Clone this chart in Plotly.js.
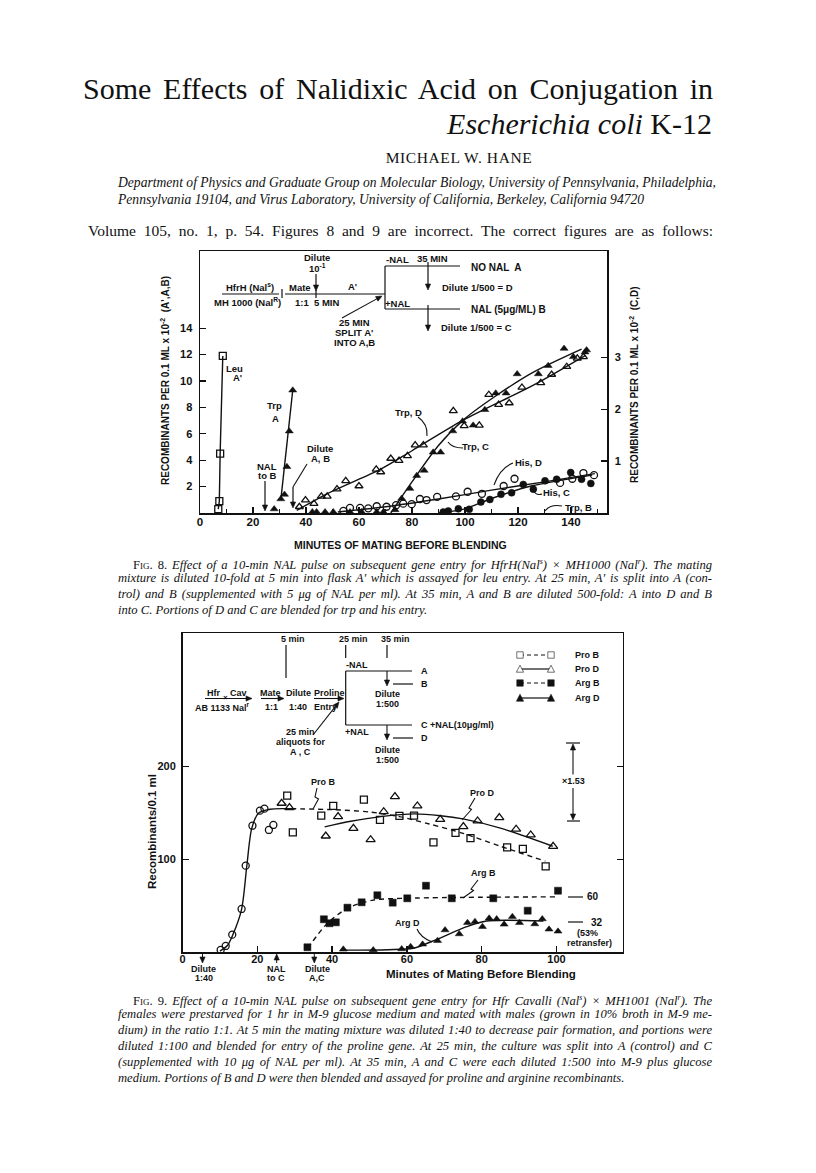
<!DOCTYPE html>
<html>
<head>
<meta charset="utf-8">
<script src="https://cdn.plot.ly/plotly-3.0.1.min.js"></script>
<style>
  body { margin: 0; background: #fff; }
  #page { position: relative; width: 816px; height: 1173px; overflow: hidden; background: #fff; }
  #chart { position: absolute; left: 0; top: 0; width: 816px; height: 1173px; z-index: 1; }
  .t { position: absolute; z-index: 2; font-family: 'Liberation Serif', 'DejaVu Serif', serif; color: #111; white-space: nowrap; }
  .j { text-align: justify; text-align-last: justify; }
  .cap { font-style: italic; font-size: 12.6px; line-height: 14px; }
  .sc { font-style: normal; font-variant: small-caps; }
</style>
</head>
<body>
<div id="page">
  <div id="chart"></div>

  <div class="t j" style="left:83px; top:72px; width:630px; font-size:30px; line-height:34px;">Some Effects of Nalidixic Acid on Conjugation in</div>
  <div class="t" style="left:300px; top:107px; width:412px; text-align:right; font-size:30px; line-height:34px;"><i>Escherichia coli</i> K-12</div>
  <div class="t" style="left:300px; top:149px; width:318px; text-align:center; font-size:15.5px; line-height:18px; letter-spacing:0.6px;">MICHAEL W. HANE</div>
  <div class="t j" style="left:118px; top:175px; width:588px; font-size:13.6px; line-height:16px; font-style:italic;">Department of Physics and Graduate Group on Molecular Biology, University of Pennsylvania, Philadelphia,</div>
  <div class="t" style="left:118px; top:192px; font-size:13.6px; line-height:16px; font-style:italic;">Pennsylvania 19104, and Virus Laboratory, University of California, Berkeley, California 94720</div>
  <div class="t j" style="left:88px; top:222px; width:625px; font-size:15.5px; line-height:18px;">Volume 105, no. 1, p. 54. Figures 8 and 9 are incorrect. The correct figures are as follows:</div>

  <div class="t j cap" style="left:133px; top:555px; width:579px;"><span class="sc">Fig. 8.</span> Effect of a 10-min NAL pulse on subsequent gene entry for HfrH(Nal<sup style="font-size:8px">s</sup>) × MH1000 (Nal<sup style="font-size:8px">r</sup>). The mating</div>
  <div class="t j cap" style="left:118px; top:571px; width:594px;">mixture is diluted 10-fold at 5 min into flask A' which is assayed for leu entry. At 25 min, A' is split into A (con-</div>
  <div class="t j cap" style="left:118px; top:587px; width:594px;">trol) and B (supplemented with 5 μg of NAL per ml). At 35 min, A and B are diluted 500-fold: A into D and B</div>
  <div class="t cap" style="left:118px; top:603px;">into C. Portions of D and C are blended for trp and his entry.</div>

  <div class="t j cap" style="left:133px; top:991px; width:579px;"><span class="sc">Fig. 9.</span> Effect of a 10-min NAL pulse on subsequent gene entry for Hfr Cavalli (Nal<sup style="font-size:8px">s</sup>) × MH1001 (Nal<sup style="font-size:8px">r</sup>). The</div>
  <div class="t j cap" style="left:118px; top:1007px; width:594px;">females were prestarved for 1 hr in M-9 glucose medium and mated with males (grown in 10% broth in M-9 me-</div>
  <div class="t j cap" style="left:118px; top:1023px; width:594px;">dium) in the ratio 1:1. At 5 min the mating mixture was diluted 1:40 to decrease pair formation, and portions were</div>
  <div class="t j cap" style="left:118px; top:1039px; width:594px;">diluted 1:100 and blended for entry of the proline gene. At 25 min, the culture was split into A (control) and C</div>
  <div class="t j cap" style="left:118px; top:1055px; width:594px;">(supplemented with 10 μg of NAL per ml). At 35 min, A and C were each diluted 1:500 into M-9 plus glucose</div>
  <div class="t cap" style="left:118px; top:1071px;">medium. Portions of B and D were then blended and assayed for proline and arginine recombinants.</div>
</div>

<script>
// ---- Fig. 8 data (minutes; left axis A',A,B / right axis C,D) ----
const leuX = [6.9, 7.3, 7.6, 8.6];
const leuY = [0.3, 0.9, 4.5, 11.9];

const trpAX = [28, 30.5, 31.9, 32.8, 33.7, 35];
const trpAY = [0.3, 1.06, 1.4, 3.5, 6.2, 9.3];
const trpALineX = [30.5, 35];
const trpALineY = [1.0, 9.3];

const trpDX = [37.5, 39.8, 43, 45.8, 48, 51.7, 55, 60, 66.5, 68.2, 72, 75.1, 78.3, 81.2, 84.3, 95.6, 99.7, 105.4, 109, 112.7, 116.7, 121.5, 128.6, 132.7, 138.4, 142.4, 144.7];
const trpDY = [0.12, 0.25, 0.18, 0.32, 0.32, 0.46, 0.62, 0.52, 0.84, 0.79, 1.05, 1.01, 1.1, 1.31, 1.31, 1.97, 1.68, 1.69, 2.28, 2.09, 2.12, 2.42, 2.51, 2.67, 2.82, 2.98, 3.01];
const trpDFitX = [36.5, 50, 68, 80, 99, 126, 145.5];
const trpDFitY = [0.05, 0.42, 0.84, 1.2, 1.78, 2.47, 3.04];

const trpCX = [73.6, 76.1, 79.2, 81.8, 84.6, 88, 90.8, 95.4, 99.1, 103.1, 107.5, 111.6, 115.5, 119.7, 127.7, 131.4, 137.4, 140.9, 145.3, 145.9];
const trpCY = [0.06, 0.28, 0.47, 0.72, 0.82, 1.17, 1.17, 1.58, 1.77, 1.69, 1.99, 2.31, 2.31, 2.68, 2.68, 2.84, 3.17, 3.01, 3.1, 3.14];
const trpCFitX = [72, 80, 90, 100, 112, 126, 144];
const trpCFitY = [0.0, 0.6, 1.3, 1.82, 2.27, 2.72, 3.16];

const trpBX = [42.4, 44, 47.2, 50.3, 56.6, 61, 66.7, 69.2];
const trpBY = [0.03, 0.03, 0.03, 0.03, 0.03, 0.03, 0.03, 0.03];

const hisDX = [54.1, 56.6, 60.4, 63.5, 66.7, 70.4, 74, 76.7, 79.9, 83, 85.5, 89.5, 96.6, 101, 106.4, 114.6, 118.7, 135.9, 140.5, 144.7, 148.7];
const hisDY = [0.04, 0.1, 0.1, 0.09, 0.13, 0.12, 0.15, 0.18, 0.17, 0.27, 0.25, 0.31, 0.32, 0.41, 0.37, 0.52, 0.66, 0.58, 0.66, 0.77, 0.73];
const hisDFitX = [52, 70, 90, 110, 130, 149];
const hisDFitY = [0.02, 0.12, 0.27, 0.44, 0.6, 0.76];

const hisCX = [91.8, 93.7, 97.5, 101.6, 106, 109.4, 113.6, 117.6, 122, 125.8, 130.2, 134.6, 139.9, 144, 147.5];
const hisCY = [0.02, 0.04, 0.08, 0.07, 0.21, 0.26, 0.36, 0.39, 0.55, 0.46, 0.62, 0.65, 0.78, 0.65, 0.57];
const hisCFitX = [90, 100, 110, 125, 148];
const hisCFitY = [0.0, 0.08, 0.28, 0.52, 0.73];

// ---- Fig. 9 data (minutes; recombinants / 0.1 ml) ----
const proX = [10.2, 11.55, 13.3, 15.8, 16.9, 18.7, 20.7, 21.9, 23.1, 24.3];
const proY = [2.2, 6.5, 18.7, 46.4, 93.1, 136.2, 152.4, 154.6, 131.6, 137];
const proFitX = [10, 12, 13.5, 15.8, 17.2, 18.5, 20.3, 23.4, 29];
const proFitY = [1, 7, 19, 46, 93, 133, 149.6, 154, 154.5];

const proBX = [28.0, 29.5, 37.1, 40.3, 48.5, 52.8, 58.0, 61.9, 67.1, 73.0, 77.0, 86.8, 91.0, 97.1];
const proBY = [168.6, 129.1, 147.0, 157.5, 164.3, 142.4, 146.7, 147.0, 118.3, 128.4, 122.7, 112.9, 111.1, 92.4];
const proBFitX = [29, 40, 50, 58, 66, 75, 85, 97];
const proBFitY = [154.5, 153.5, 151, 146, 138, 128, 114, 98];

const proDX = [26.5, 28.6, 38.3, 41.6, 45.7, 50.3, 53.8, 56.8, 62.8, 68.9, 75.1, 78.9, 84.7, 89.2, 93.1, 99.1];
const proDY = [160.4, 155.7, 125.1, 146, 133.4, 121.1, 151.3, 167.5, 157.5, 143.1, 135.2, 141.3, 144.9, 132.4, 126.2, 114];
const proDFitX = [38, 45, 53, 62, 69, 75, 85, 99];
const proDFitY = [135, 141, 146, 149, 147, 143.5, 133.5, 114];

const argBX = [33.4, 37.8, 39.3, 41.0, 44.1, 47.9, 52.1, 56.2, 60.1, 65.1, 72.0, 83.1, 92.3, 100.4];
const argBY = [5.1, 35.3, 31.0, 32.0, 47.8, 53.6, 61.2, 53.2, 57.9, 71.5, 57.9, 57.9, 44.6, 66.1];
const argBFitX = [33.5, 38.5, 44, 51, 60, 100];
const argBFitY = [4, 30, 47, 56, 58, 59.5];

const argDX = [43.0, 51.0, 58.6, 61.0, 64.2, 68.2, 70.2, 74.0, 76.2, 78.2, 80.2, 82.0, 84.0, 86.0, 88.2, 90.1, 94.2, 96.2, 98.0, 100.4];
const argDY = [2.9, 2.2, 3.2, 5.7, 8.3, 12.2, 23.7, 19.4, 31.6, 32.7, 27.3, 36.4, 35.6, 29.8, 38.1, 31.6, 30.2, 35.6, 24.5, 22.3];
const argDFitX = [43, 55, 61.7, 68, 76, 81.3, 96.5];
const argDFitY = [2, 2.5, 4, 13.7, 27.3, 33.4, 33.4];

// ---- page helpers (page pixels -> paper fractions) ----
const W = 816, H = 1173;
const INK = '#111';
const SANS = 'Liberation Sans, Arial, sans-serif';
const fx = p => p / W;
const fy = p => 1 - p / H;

function T(x, y, text, size, opt) {
    return Object.assign({
        xref: 'paper', yref: 'paper', x: fx(x), y: fy(y), text: text, showarrow: false,
        xanchor: 'center', yanchor: 'middle',
        font: { family: SANS, size: size || 10, color: INK, weight: 'bold' },
    }, opt || {});
}
function L(x0, y0, x1, y1, w, dash) {
    return { type: 'line', xref: 'paper', yref: 'paper', x0: fx(x0), y0: fy(y0), x1: fx(x1), y1: fy(y1),
        line: { color: INK, width: w || 1.2, dash: dash || 'solid' } };
}
function P(pts, closed, fill) {
    let d = pts.map((p, i) => (i ? 'L' : 'M') + fx(p[0]) + ',' + fy(p[1])).join(' ');
    if (closed) d += ' Z';
    return { type: 'path', xref: 'paper', yref: 'paper', path: d,
        fillcolor: fill || 'rgba(0,0,0,0)', line: { color: INK, width: fill ? 0.6 : 1.1 } };
}
function Q(x0, y0, cx, cy, x1, y1) {
    return { type: 'path', xref: 'paper', yref: 'paper',
        path: `M${fx(x0)},${fy(y0)} Q${fx(cx)},${fy(cy)} ${fx(x1)},${fy(y1)}`,
        line: { color: INK, width: 1.1 } };
}
// arrow from (x0,y0) to head at (x1,y1)
function ARW(x0, y0, x1, y1, w) {
    const dx = x1 - x0, dy = y1 - y0, len = Math.hypot(dx, dy);
    const ux = dx / len, uy = dy / len, hl = 6, hw = 2.6;
    const bx = x1 - ux * hl, by = y1 - uy * hl;
    return [
        L(x0, y0, bx, by, w || 1.2),
        P([[x1, y1], [bx - uy * hw, by + ux * hw], [bx + uy * hw, by - ux * hw]], true, INK),
    ];
}
function mk(x, y, kind, s) {
    s = s || 3.2;
    if (kind === 'sq' || kind === 'sqf') {
        return P([[x - s, y - s], [x + s, y - s], [x + s, y + s], [x - s, y + s]], true, kind === 'sqf' ? INK : '#fff');
    }
    return P([[x, y - s - 0.6], [x + s + 0.4, y + s], [x - s - 0.4, y + s]], true, kind === 'trf' ? INK : '#fff');
}

// ---- traces ----
const BASE8 = { xaxis: 'x', showlegend: false, hoverinfo: 'skip' };
const BASE9 = { xaxis: 'x3', yaxis: 'y3', showlegend: false, hoverinfo: 'skip' };
const mOpen = (sym, sz) => ({ symbol: sym, size: sz || 7, color: INK, line: { color: INK, width: 1.3 } });
const mFill = (sym, sz) => ({ symbol: sym, size: sz || 7, color: INK, line: { color: INK, width: 0.5 } });
const fitLine = (dash) => ({ color: INK, width: 1.4, shape: 'spline', smoothing: 0.8, dash: dash || 'solid' });

const data = [
    // Fig. 8
    { ...BASE8, yaxis: 'y', x: leuX, y: leuY, mode: 'lines+markers', line: { color: INK, width: 1.4 }, marker: { ...mOpen('square-open', 7), color: INK } },
    { ...BASE8, yaxis: 'y', x: trpALineX, y: trpALineY, mode: 'lines', line: { color: INK, width: 1.4 } },
    { ...BASE8, yaxis: 'y', x: trpAX, y: trpAY, mode: 'markers', marker: mFill('triangle-up', 7) },
    { ...BASE8, yaxis: 'y2', x: trpDFitX, y: trpDFitY, mode: 'lines', line: fitLine() },
    { ...BASE8, yaxis: 'y2', x: trpCFitX, y: trpCFitY, mode: 'lines', line: fitLine() },
    { ...BASE8, yaxis: 'y2', x: hisDFitX, y: hisDFitY, mode: 'lines', line: fitLine() },
    { ...BASE8, yaxis: 'y2', x: hisCFitX, y: hisCFitY, mode: 'lines', line: fitLine() },
    { ...BASE8, yaxis: 'y2', x: trpDX, y: trpDY, mode: 'markers', marker: { ...mOpen('triangle-up-open', 7) } },
    { ...BASE8, yaxis: 'y2', x: trpCX, y: trpCY, mode: 'markers', marker: mFill('triangle-up', 7) },
    { ...BASE8, yaxis: 'y2', x: trpBX, y: trpBY, mode: 'markers', marker: mFill('triangle-up', 6) },
    { ...BASE8, yaxis: 'y2', x: hisDX, y: hisDY, mode: 'markers', marker: mOpen('circle-open', 7) },
    { ...BASE8, yaxis: 'y2', x: hisCX, y: hisCY, mode: 'markers', marker: mFill('circle', 7) },
    // Fig. 9
    { ...BASE9, x: proFitX, y: proFitY, mode: 'lines', line: fitLine() },
    { ...BASE9, x: proBFitX, y: proBFitY, mode: 'lines', line: { ...fitLine('5px,4px') } },
    { ...BASE9, x: proDFitX, y: proDFitY, mode: 'lines', line: fitLine() },
    { ...BASE9, x: argBFitX, y: argBFitY, mode: 'lines', line: { ...fitLine('5px,4px') } },
    { ...BASE9, x: argDFitX, y: argDFitY, mode: 'lines', line: fitLine() },
    { ...BASE9, x: proX, y: proY, mode: 'markers', marker: mOpen('circle-open', 7) },
    { ...BASE9, x: proBX, y: proBY, mode: 'markers', marker: mOpen('square-open', 7) },
    { ...BASE9, x: proDX, y: proDY, mode: 'markers', marker: mOpen('triangle-up-open', 8) },
    { ...BASE9, x: argBX, y: argBY, mode: 'markers', marker: mFill('square', 7) },
    { ...BASE9, x: argDX, y: argDY, mode: 'markers', marker: mFill('triangle-up', 7) },
];

// ---- diagram annotations & shapes ----
const ann = [];
const shp = [];
const add = (...s) => s.forEach(o => Array.isArray(o) ? shp.push(...o) : shp.push(o));

// Fig. 8 axis titles
ann.push(T(400, 545, 'MINUTES OF MATING BEFORE BLENDING', 10.5));
ann.push(T(165, 381, "RECOMBINANTS PER 0.1 ML x 10<sup>-2</sup>  (A',A,B)", 10, { textangle: -90 }));
ann.push(T(634, 385, 'RECOMBINANTS PER 0.1 ML x 10<sup>-2</sup>  (C,D)', 10, { textangle: -90 }));

// Fig. 8 protocol sketch
ann.push(T(317, 257, 'Dilute', 9.5), T(317, 268, '10<sup>-1</sup>', 9.5));
add(ARW(316, 274, 316, 291));
ann.push(T(250, 287, 'HfrH (Nal<sup>s</sup>)', 9.5), T(248, 302, 'MH 1000 (Nal<sup>R</sup>)', 9.5));
add(L(222, 294, 279, 294), L(282, 289, 282, 298), L(285, 294, 385, 294), L(316, 290, 316, 298));
ann.push(T(300, 287, 'Mate', 9.5), T(302, 302, '1:1', 9.5), T(326, 302, '5 MIN', 9.5), T(352, 286, "A'", 9.5));
add(L(385, 266, 385, 309), L(385, 266, 460, 266), L(385, 309, 460, 309));
ann.push(T(397, 259, '-NAL', 9.5), T(432, 258, '35 MIN', 9.5), T(397, 303, '+NAL', 9.5));
add(ARW(428, 262, 428, 290), ARW(428, 305, 428, 331));
ann.push(T(469, 267, 'NO NAL  A', 10, { xanchor: 'left' }));
ann.push(T(440, 287, 'Dilute 1/500 = D', 9.5, { xanchor: 'left' }));
ann.push(T(469, 310, 'NAL (5μg/ML) B', 10, { xanchor: 'left' }));
ann.push(T(439, 327, 'Dilute 1/500 = C', 9.5, { xanchor: 'left' }));
ann.push(T(354, 322, '25 MIN', 9.5), T(354, 332, "SPLIT A'", 9.5), T(354, 342, 'INTO A,B', 9.5));
add(ARW(342, 318, 382, 296, 1.1));

ann.push(T(235, 368, 'Leu', 9.5), T(237, 377, "A'", 9.5));
ann.push(T(274, 405, 'Trp', 9.5), T(275, 418, 'A', 9.5));
ann.push(T(267, 466, 'NAL', 9.5), T(267, 475, 'to B', 9.5));
add(ARW(265, 481, 265, 511));
ann.push(T(320, 448, 'Dilute', 9.5), T(320, 459, 'A, B', 9.5));
add(L(307, 464, 293, 487, 1.1), ARW(293, 487, 293, 508));
ann.push(T(408, 412, 'Trp, D', 9.5), T(475, 446, 'Trp, C', 9.5), T(528, 462, 'His, D', 9.5));
ann.push(T(556, 492, 'His, C', 9.5), T(578, 507, 'Trp, B', 9.5));
add(Q(418, 417, 428, 424, 427, 436), Q(463, 448, 452, 448, 448, 442), Q(513, 463, 500, 468, 494, 485));
add(Q(542, 494, 536, 496, 533, 490), Q(562, 506, 550, 504, 545, 511));

// Fig. 9 axis titles & markers below axis
ann.push(T(481, 974, 'Minutes of Mating Before Blending', 11.5));
ann.push(T(152, 832, 'Recombinants/0.1 ml', 11.5, { textangle: -90 }));
add(ARW(202.5, 954, 202.5, 963, 1), ARW(276.7, 963, 276.7, 954, 1), ARW(314.3, 954, 314.3, 963, 1));
ann.push(T(203, 969, 'Dilute', 9), T(204, 978, '1:40', 9));
ann.push(T(276, 969, 'NAL', 9), T(276, 978, 'to C', 9));
ann.push(T(317, 969, 'Dilute', 9), T(317, 978, 'A,C', 9));

// Fig. 9 protocol sketch
const S9 = 9;
add(L(286, 645, 286, 678), L(345.7, 645, 345.7, 658), L(387, 645, 387, 658));
ann.push(T(293, 639, '5 min', S9), T(353, 639, '25 min', S9), T(395, 639, '35 min', S9));
ann.push(T(357, 665, '-NAL', S9), T(357, 732, '+NAL', S9));
add(L(345.7, 671, 345.7, 725), L(345.7, 671, 412, 671), L(345.7, 725, 412, 725));
add(L(393, 684, 413, 684), L(393, 738, 413, 738));
add(ARW(387, 671, 387, 686, 1.1), ARW(387, 725, 387, 740, 1.1));
ann.push(T(419, 671, 'A', S9, { xanchor: 'left' }), T(419, 684, 'B', S9, { xanchor: 'left' }));
ann.push(T(419, 725, 'C +NAL(10μg/ml)', S9, { xanchor: 'left' }), T(419, 738, 'D', S9, { xanchor: 'left' }));
ann.push(T(387, 694, 'Dilute', S9), T(387, 704, '1:500', S9), T(387, 750, 'Dilute', S9), T(387, 760, '1:500', S9));
ann.push(T(213, 693, 'Hfr', S9), T(238, 693, 'Cav', S9), T(225, 697.5, '×', 8));
add(ARW(205, 698.5, 252, 698.5, 1.1));
ann.push(T(223, 707, 'AB 1133 Nal<sup>r</sup>', S9));
ann.push(T(270, 693, 'Mate', S9), T(271, 707, '1:1', S9));
add(ARW(261, 698.5, 284, 698.5, 1.1));
ann.push(T(298, 693, 'Dilute', S9), T(298, 707, '1:40', S9));
ann.push(T(329, 693, 'Proline', S9), T(325, 707, 'Entry', S9));
add(ARW(314, 698.5, 344, 698.5, 1.1));
ann.push(T(300, 732, '25 min', S9), T(300, 742, 'aliquots for', S9), T(300, 752, 'A , C', S9));
add(ARW(313, 735, 339, 702, 1.1));

// Fig. 9 legend (drawn sketch)
const legRows = [
    { y: 655, kind: 'sq', dash: 'dash', label: 'Pro B' },
    { y: 669, kind: 'tr', dash: 'solid', label: 'Pro D' },
    { y: 683, kind: 'sqf', dash: 'dash', label: 'Arg B' },
    { y: 698, kind: 'trf', dash: 'solid', label: 'Arg D' },
];
legRows.forEach(r => {
    add(L(520, r.y, 551, r.y, 1.2, r.dash === 'dash' ? '4px,3px' : 'solid'));
    add(mk(520, r.y, r.kind), mk(551, r.y, r.kind));
    ann.push(T(573, r.y, r.label, S9, { xanchor: 'left' }));
});

// ×1.53 bracket
add(L(566, 743, 580, 743), L(567, 821, 580, 821));
add(ARW(573, 775, 573, 744, 1.1), ARW(573, 788, 573, 820, 1.1));
ann.push(T(573, 781, '×1.53', S9, { bgcolor: '#fff' }));

// right-hand end labels
add(L(568, 897, 583, 897), L(568, 922, 583, 922));
ann.push(T(593, 897, '60', 10), T(597, 922, '32', 10), T(587, 933, '(53%', S9), T(589, 943, 'retransfer)', S9));

// curve labels
ann.push(T(323, 782, 'Pro B', S9), T(482, 793, 'Pro D', S9), T(483, 873, 'Arg B', S9), T(407, 923, 'Arg D', S9));
add(P([[317, 788], [315, 797], [318.5, 799], [313, 809]]));
add(P([[475, 798], [469, 808], [471.5, 809.5], [462, 820]]));
add(P([[478, 880], [471, 889], [473.5, 890.5], [463, 898]]));
add(Q(417, 929, 420, 937, 432, 942));

const tick = { family: SANS, size: 11, color: INK, weight: 'bold' };
const axBase = {
    showline: true, linecolor: INK, linewidth: 1.5, showgrid: false, zeroline: false,
    ticks: 'inside', ticklen: 6, tickwidth: 1.3, tickcolor: INK, tickfont: tick, fixedrange: true,
};

const layout = {
    width: W, height: H,
    margin: { l: 0, r: 0, t: 0, b: 0 },
    paper_bgcolor: '#fff', plot_bgcolor: 'rgba(0,0,0,0)',
    showlegend: false,
    xaxis: { ...axBase, domain: [fx(200), fx(607)], range: [0, 153.6], anchor: 'y', mirror: true,
        tickmode: 'linear', tick0: 0, dtick: 20, tickfont: { ...tick, size: 11.5 }, ticklabelstandoff: -2,
        minor: { tickmode: 'linear', tick0: 0, dtick: 10, ticks: 'inside', ticklen: 4, tickcolor: INK, tickwidth: 1.2 } },
    yaxis: { ...axBase, domain: [fy(513), fy(251)], range: [0, 19.85], anchor: 'x',
        tickmode: 'array', tickvals: [2, 4, 6, 8, 10, 12, 14], ticklabelstandoff: 4 },
    yaxis2: { ...axBase, overlaying: 'y', side: 'right', anchor: 'x', range: [0, 5.05],
        tickmode: 'array', tickvals: [1, 2, 3], ticklabelstandoff: 4 },
    xaxis3: { ...axBase, domain: [fx(182.5), fx(622.7)], range: [0, 117.7], anchor: 'y3', mirror: true,
        tickmode: 'linear', tick0: 0, dtick: 20, ticklabelstandoff: -4 },
    yaxis3: { ...axBase, domain: [fy(952), fy(633)], range: [0, 344], anchor: 'x3', mirror: 'ticks',
        tickmode: 'array', tickvals: [100, 200], ticklabelstandoff: 3 },
    annotations: ann,
    shapes: shp,
};

Plotly.newPlot('chart', data, layout, { displayModeBar: false, staticPlot: true });
</script>
</body>
</html>
